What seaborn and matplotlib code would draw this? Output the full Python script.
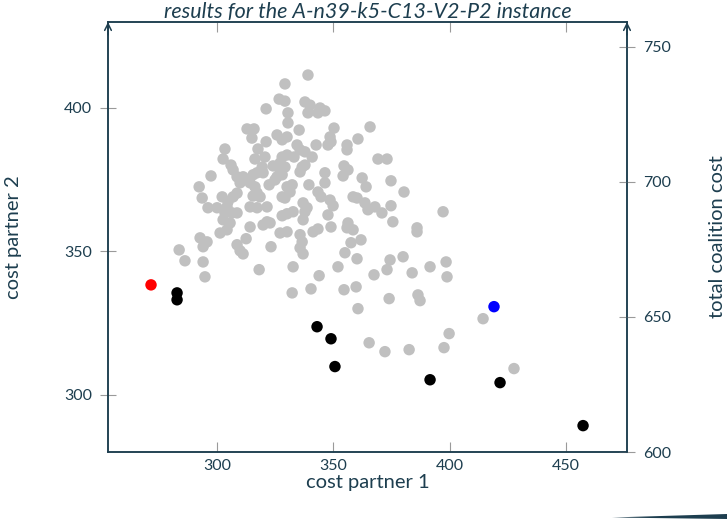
import matplotlib
matplotlib.use("Agg")
import matplotlib.pyplot as plt
from matplotlib.patches import Polygon
import seaborn as sns
import pandas as pd

# ---- data -----------------------------------------------------------
gray_x = [339.1, 329.2, 326.7, 329.2, 321.1, 337.8, 340.0, 330.5, 339.1, 344.3,
          346.4, 343.4, 330.5, 312.9, 315.9, 315.0, 335.3, 325.8, 328.0, 330.1,
          350.3, 348.6, 347.7, 349.0, 365.8, 321.1, 317.6, 303.4, 302.6, 316.3,
          320.6, 328.0, 334.4, 335.7, 337.8, 333.1, 330.1, 342.6, 340.9, 355.9,
          355.9, 360.6, 369.2, 373.1, 306.0, 306.9, 297.4, 319.4, 317.2, 319.8,
          324.1, 327.1, 329.2, 327.1, 336.6, 337.8, 335.7, 308.6, 311.2, 309.9,
          315.5, 314.2, 328.0, 325.8, 346.4, 346.4, 354.6, 356.3, 354.2, 339.5,
          322.4, 324.9, 292.3, 293.6, 316.3, 317.2, 318.5, 315.5, 330.1, 331.4,
          328.0, 329.2, 343.4, 344.7, 348.6, 349.9, 347.7, 360.2, 302.2, 306.9,
          304.7, 304.3, 296.1, 300.0, 314.2, 317.2, 321.5, 337.0, 338.7, 337.8,
          303.4, 306.5, 302.6, 305.6, 301.3, 304.3, 308.6, 321.5, 322.8, 319.8,
          328.0, 330.1, 332.7, 337.0, 314.2, 327.1, 330.1, 341.3, 343.4, 349.0,
          356.3, 355.9, 358.5, 292.7, 295.7, 294.0, 312.5, 335.7, 336.6, 335.7,
          337.0, 308.6, 309.9, 311.2, 323.2, 283.7, 286.2, 357.6, 355.0, 360.2,
          362.4, 364.1, 374.8, 380.4, 332.3, 358.5, 363.6, 364.9, 367.9, 370.9,
          374.8, 375.6, 386.0, 386.0, 397.2, 361.9, 374.4, 380.0, 398.5, 294.0,
          294.8,
          318.1, 332.7, 332.3, 340.4, 343.9, 352.0, 354.6, 359.8, 360.6, 367.5, 373.1,
          383.9, 391.6, 398.9, 374.0, 386.4, 387.3, 365.4, 372.2, 382.6, 397.6, 399.8,
          414.4, 427.7,
          308.6]
gray_y = [411.5, 408.4, 403.1, 402.4, 399.7, 402.1, 401.0, 398.3, 398.3, 400.0,
          399.0, 398.3, 394.8, 392.7, 392.7, 389.5, 392.3, 390.6, 388.9, 389.9,
          393.0, 389.9, 387.1, 388.2, 393.4, 388.2, 385.7, 385.7, 382.2, 382.2,
          382.9, 382.9, 387.1, 385.4, 384.7, 382.9, 383.6, 387.1, 382.9, 387.1,
          385.4, 389.2, 382.2, 382.2, 380.1, 378.4, 376.3, 379.4, 377.4, 377.4,
          379.8, 380.8, 379.4, 378.4, 379.4, 380.1, 377.7, 376.0, 376.0, 373.9,
          376.7, 373.9, 376.7, 376.0, 377.4, 373.9, 379.8, 378.4, 376.3, 373.2,
          373.2, 374.9, 372.5, 368.6, 372.5, 370.4, 369.0, 369.3, 372.5, 370.7,
          369.0, 368.6, 370.7, 369.0, 367.9, 365.9, 362.7, 368.6, 369.0, 369.0,
          367.3, 365.5, 365.2, 365.2, 365.5, 365.2, 365.5, 366.9, 365.2, 363.8,
          363.4, 363.4, 361.0, 359.9, 356.4, 357.5, 363.4, 360.3, 359.9, 359.2,
          362.4, 363.1, 363.8, 361.0, 358.5, 356.4, 356.8, 356.8, 357.8, 358.5,
          359.9, 358.2, 357.5, 354.7, 353.3, 351.6, 354.4, 355.8, 353.3, 351.2,
          349.1, 352.3, 350.2, 349.1, 351.6, 350.5, 346.7, 353.0, 349.5, 347.4,
          375.6, 372.5, 374.6, 370.7, 373.2, 369.0, 366.9, 364.5, 365.5, 363.4,
          365.9, 360.3, 358.2, 356.8, 363.8, 354.0, 347.0, 348.1, 346.3, 346.3,
          341.1,
          343.6, 344.6, 335.5, 336.9, 341.5, 344.6, 336.6, 337.6, 330.0, 341.8, 343.6,
          342.5, 344.6, 341.1, 333.5, 334.8, 332.8, 318.1, 315.0, 315.7, 316.4, 321.3,
          326.5, 309.1,
          370.3]

front_x = [282.8, 282.8, 343.0, 349.0, 350.7, 391.6, 421.7, 457.4]
front_y = [335.5, 333.1, 323.7, 319.5, 309.8, 305.2, 304.2, 289.2]

red_x = [271.6]
red_y = [338.3]
blue_x = [419.1]
blue_y = [330.7]

x_ticks = [300, 350, 400, 450]
y_ticks = [300, 350, 400]
y2_ticks = [600, 650, 700, 750]

title = "results for the A-n39-k5-C13-V2-P2 instance"
xlabel = "cost partner 1"
ylabel = "cost partner 2"
y2label = "total coalition cost"

# ---- style ----------------------------------------------------------
sns.set_theme(style="white")
plt.rcParams["font.family"] = ["Lato", "DejaVu Sans"]
dark = "#1d3e4f"
tickgray = "#9a9a9a"

df = pd.concat([
    pd.DataFrame({"x": gray_x, "y": gray_y, "kind": "other"}),
    pd.DataFrame({"x": front_x, "y": front_y, "kind": "front"}),
    pd.DataFrame({"x": red_x, "y": red_y, "kind": "red"}),
    pd.DataFrame({"x": blue_x, "y": blue_y, "kind": "blue"}),
], ignore_index=True)
palette = {"other": "#c0c0c0", "front": "#000000", "red": "#ff0000", "blue": "#0000ff"}

fig = plt.figure(figsize=(7.27, 5.19), dpi=100)
ax = fig.add_axes([108/727, 1-452/519, (627-108)/727, (452-22)/519])

sns.scatterplot(data=df, x="x", y="y", hue="kind", palette=palette,
                s=68, linewidth=0, legend=False, ax=ax, zorder=3)

ax.set_xlim(253.1, 476.3)
ax.set_ylim(280.0, 430.0)
ax.set_xticks(x_ticks)
ax.set_yticks(y_ticks)
ax.set_xlabel(xlabel, fontsize=14.5, color=dark, labelpad=0.5)
ax.set_ylabel(ylabel, fontsize=14.5, color=dark, labelpad=30)
ax.set_title(title, fontsize=15.5, color=dark, style="italic", pad=0)

for sp in ax.spines.values():
    sp.set_color(dark)
    sp.set_linewidth(1.1)

ax.tick_params(axis="x", which="both", direction="in", length=7, width=0.8,
               color=tickgray, labelcolor=dark, labelsize=11.5, top=True,
               labeltop=False, bottom=True, pad=5)
ax.tick_params(axis="y", which="both", direction="inout", length=11, width=0.8,
               color=tickgray, labelcolor=dark, labelsize=11.5, left=True, pad=6)

ax2 = ax.twinx()
ax2.set_ylim(600, 759.2)
ax2.set_yticks(y2_ticks)
ax2.set_ylabel(y2label, fontsize=14.5, color=dark, labelpad=27)
ax2.tick_params(axis="y", direction="inout", length=11, width=0.8,
                color=tickgray, labelcolor=dark, labelsize=11.5, pad=6)
for sp in ax2.spines.values():
    sp.set_color(dark)
    sp.set_linewidth(1.1)

# arrow heads on the vertical axes
for xf in (0.0, 1.0):
    ax.annotate("", xy=(xf, 1.0), xytext=(xf, 0.97), xycoords="axes fraction",
                arrowprops=dict(arrowstyle="->", color=dark, lw=1.1,
                                shrinkA=0, shrinkB=0, mutation_scale=12),
                annotation_clip=False)

# decorative swoosh bottom right
fig.patches.append(Polygon([(612/727, 1.5/519), (1.0, 5/519), (1.0, 0.0)],
                           closed=True, transform=fig.transFigure,
                           facecolor=dark, edgecolor="none"))

fig.savefig("out.png", dpi=100)
